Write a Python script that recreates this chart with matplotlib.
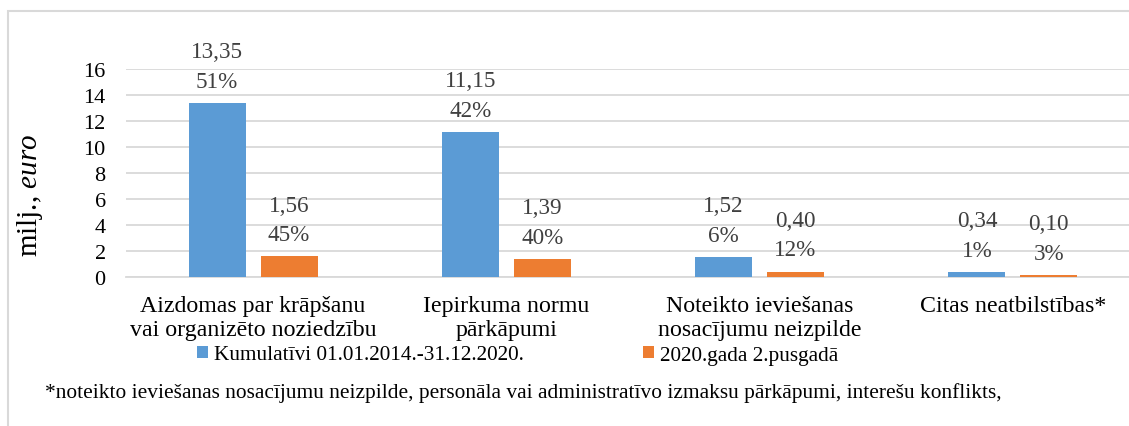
#Recreate bar chart: milj. euro by category
import numpy as np
import matplotlib
matplotlib.use("Agg")
from matplotlib import pyplot as plt
from matplotlib.patches import Rectangle

plt.rcParams['font.family'] = ['Liberation Serif', 'DejaVu Serif']
plt.rcParams['mathtext.fontset'] = 'custom'
plt.rcParams['mathtext.rm'] = 'Liberation Serif'
plt.rcParams['mathtext.it'] = 'Liberation Serif:italic'

categories = ["Aizdomas par krāpšanu\nvai organizēto noziedzību",
              "Iepirkuma normu\npārkāpumi",
              "Noteikto ieviešanas\nnosacījumu neizpilde",
              "Citas neatbilstības*"]
cumulative = [13.35, 11.15, 1.52, 0.34]
cumulative_pct = ["51%", "42%", "6%", "1%"]
half2020 = [1.56, 1.39, 0.40, 0.10]
half2020_pct = ["45%", "40%", "12%", "3%"]
series_names = ["Kumulatīvi 01.01.2014.-31.12.2020.", "2020.gada 2.pusgadā"]
yticks = [0, 2, 4, 6, 8, 10, 12, 14, 16]
footnote = ("*noteikto ieviešanas nosacījumu neizpilde, personāla vai "
            "administratīvo izmaksu pārkāpumi, interešu konflikts,")

blue = '#5B9BD5'
orange = '#ED7D31'

fig = plt.figure(figsize=(11.29, 4.27), dpi=100)
# outer frame (right and bottom edges fall outside the picture)
fig.patches.append(Rectangle((8/1129, -0.1), 1.2, 1 - 12/427 + 0.1,
                             transform=fig.transFigure, fill=False,
                             edgecolor='#D9D9D9', linewidth=1.5))

ax = fig.add_axes([126.5/1129, 1 - 277.7/427, 1013/1129, 208/427])
x = np.arange(len(categories))
w = 0.225
off = 0.142
b1 = ax.bar(x - off, cumulative, w, color=blue, label=series_names[0], zorder=3)
b2 = ax.bar(x + off, half2020, w, color=orange, label=series_names[1], zorder=3)

def fmt(v):
    return f"{v:.2f}".replace('.', ',')

for bars, vals, pcts in [(b1, cumulative, cumulative_pct), (b2, half2020, half2020_pct)]:
    for rect, v, p in zip(bars, vals, pcts):
        ax.annotate(fmt(v) + "\n" + p,
                    (rect.get_x() + rect.get_width()/2, rect.get_height()),
                    xytext=(0, 8), textcoords='offset points',
                    ha='center', va='bottom', fontsize=16.7, color='#404040',
                    linespacing=1.55, annotation_clip=False)

ax.set_xlim(-0.5, 3.5)
ax.set_ylim(0, 16)
ax.set_yticks(yticks)
ax.set_xticks(x)
ax.set_xticklabels(categories, fontsize=17.2)
ax.tick_params(axis='y', length=0, pad=15, labelsize=16)
ax.tick_params(axis='x', length=0, pad=13)
ax.grid(axis='y', color='#D9D9D9', linewidth=1.3, zorder=0)
for s in ['top', 'right', 'left']:
    ax.spines[s].set_visible(False)
ax.spines['bottom'].set_color('#D9D9D9')
ax.spines['bottom'].set_linewidth(1.3)

fig.text(30/1129, 1 - 195/427, r"milj., $\mathit{euro}$", rotation=90,
         ha='center', va='center', fontsize=21)

fig.legend(handles=[b1, b2], loc='center left', bbox_to_anchor=(197/1129, 1 - 356/427),
           ncol=2, frameon=False, fontsize=15.3, handlelength=0.5, handleheight=0.5,
           handletextpad=0.3, columnspacing=5.6, borderaxespad=0, borderpad=0)

fig.text(45/1129, 1 - 393/427, footnote, ha='left', va='center', fontsize=15.4)

plt.savefig('out.png', dpi=100)
